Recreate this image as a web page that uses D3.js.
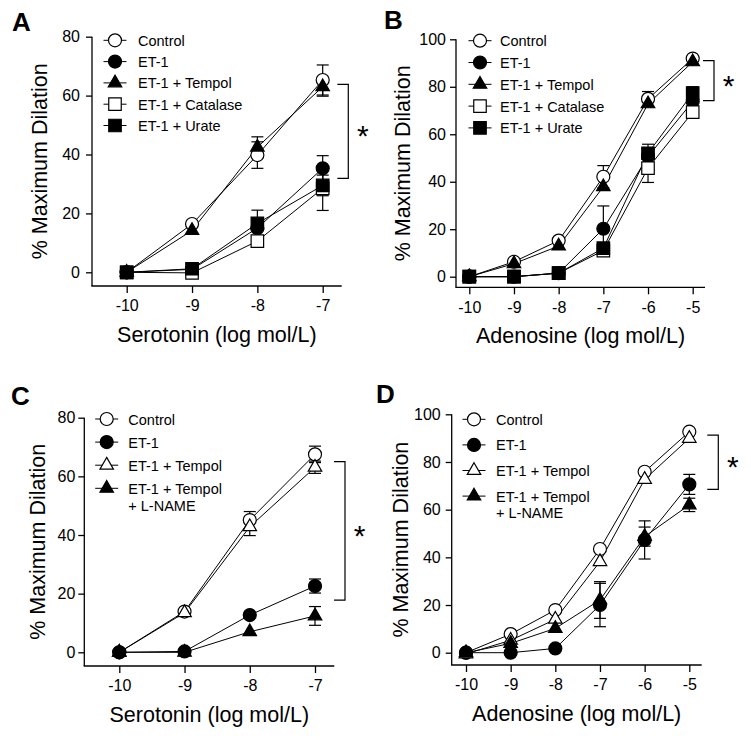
<!DOCTYPE html>
<html><head><meta charset="utf-8">
<script src="https://cdn.jsdelivr.net/npm/d3@7"></script>
<style>
body{margin:0;background:#fff}
svg{display:block}
text{font-family:"Liberation Sans",Arial,Helvetica,sans-serif;fill:#000}
</style>
</head><body>
<svg id="chart" width="751" height="740"></svg>
<script>
// ---------- DATA ----------
const serotoninDoses = [-10, -9, -8, -7];
const adenosineDoses = [-10, -9, -8, -7, -6, -5];
const yTicks80 = [0, 20, 40, 60, 80];
const yTicks100 = [0, 20, 40, 60, 80, 100];

const namesAB = ["Control", "ET-1", "ET-1 + Tempol", "ET-1 + Catalase", "ET-1 + Urate"];
const namesCD = ["Control", "ET-1", "ET-1 + Tempol", "ET-1 + Tempol|+ L-NAME"];

// Panel A (Serotonin)
const aControl  = [0, 16.4, 39.8, 65.3];  const aControlErr  = [0, 0, 4.5, 5.1];
const aET1      = [0, 1.0, 15.0, 35.3];   const aET1Err      = [0, 0, 0, 4.3];
const aTempol   = [0, 14.2, 42.5, 63.0];  const aTempolErr   = [0, 0, 3.5, 3.2];
const aCatalase = [0, -0.2, 10.6, 28.5];  const aCatalaseErr = [0, 0, 0, 7.5];
const aUrate    = [0, 1.2, 16.6, 29.5];   const aUrateErr    = [0, 0, 4.5, 3.5];

// Panel B (Adenosine)
const bControl  = [0, 6.3, 15.2, 42.1, 74.9, 91.9]; const bControlErr  = [0, 0, 0, 4.7, 3.1, 0];
const bET1      = [0, 0, 1.5, 20.2, 50.6, 73.8];    const bET1Err      = [0, 0, 0, 9.6, 5.2, 0];
const bTempol   = [0, 5.5, 12.9, 37.9, 72.8, 90.5]; const bTempolErr   = [0, 0, 0, 0, 0, 0];
const bCatalase = [0, 0, 1.5, 11.0, 45.7, 69.3];    const bCatalaseErr = [0, 0, 0, 0, 6.0, 0];
const bUrate    = [0, 0, 1.5, 12.0, 52.0, 77.3];    const bUrateErr    = [0, 0, 0, 0, 0, 2.7];

// Panel C (Serotonin)
const cControl = [0, 13.9, 45.1, 67.5]; const cControlErr = [0, 0, 2.9, 2.8];
const cET1     = [0, 0.3, 12.7, 22.6];  const cET1Err     = [0, 0, 0, 2.4];
const cTempol  = [0, 13.5, 42.8, 63.1]; const cTempolErr  = [0, 0, 3.0, 2.1];
const cLNAME   = [0, 0, 7.0, 12.4];     const cLNAMEErr   = [0, 0, 0, 3.2];

// Panel D (Adenosine)
const dControl = [0, 7.8, 17.9, 43.5, 75.9, 92.7];  const dControlErr = [0, 0, 0, 0, 0, 0];
const dET1     = [0, 0, 1.8, 20.0, 47.3, 70.6];     const dET1Err     = [0, 0, 0, 9.1, 8.0, 4.2];
const dTempol  = [-0.5, 5.2, 14.0, 38.2, 72.7, 89.9]; const dTempolErr = [0, 0, 0, 0, 0, 0];
const dLNAME   = [0, 3.9, 10.2, 22.1, 48.7, 62.0];  const dLNAMEErr   = [0, 0, 0, 7.7, 4.0, 2.8];

// significance brackets (data units: top, bottom)
const bracketA = [63.8, 31.9];
const bracketB = [91.0, 74.2];
const bracketC = [65.0, 17.8];
const bracketD = [91.3, 68.5];

const xTitleSerotonin = "Serotonin (log mol/L)";
const xTitleAdenosine = "Adenosine (log mol/L)";
const yTitle = "% Maximum Dilation";

// ---------- STYLE / LAYOUT ----------
const markersAB = ["circleOpen", "circleFilled", "triangleFilled", "squareOpen", "squareFilled"];
const markersCD = ["circleOpen", "circleFilled", "triangleOpen", "triangleFilled"];

const panels = [
  { label: "A", labelPos: [12, 31], doses: serotoninDoses, yTicks: yTicks80,
    xr: [126.7, 322.7], yr: [272.3, 36.7], yAxisX: 92, xAxisY: 286, xEnd: 341.7,
    yTitleX: 46.5, xTitle: xTitleSerotonin, tickPad: 6,
    series: [[aControl, aControlErr], [aET1, aET1Err], [aTempol, aTempolErr], [aCatalase, aCatalaseErr], [aUrate, aUrateErr]],
    names: namesAB, markers: markersAB,
    legend: { mx: 115, y0: 40.3, dy: 21.3, tx: 138 },
    bracket: bracketA, bracketDx: 25.6 },
  { label: "B", labelPos: [384, 29], doses: adenosineDoses, yTicks: yTicks100,
    xr: [469.3, 692.7], yr: [276.7, 39.3], yAxisX: 456, xAxisY: 287.3, xEnd: 705,
    yTitleX: 410, xTitle: xTitleAdenosine, tickPad: 4,
    series: [[bControl, bControlErr], [bET1, bET1Err], [bTempol, bTempolErr], [bCatalase, bCatalaseErr], [bUrate, bUrateErr]],
    names: namesAB, markers: markersAB,
    legend: { mx: 480, y0: 40.7, dy: 21.8, tx: 500 },
    bracket: bracketB, bracketDx: 21.3 },
  { label: "C", labelPos: [11, 405], doses: serotoninDoses, yTicks: yTicks80,
    xr: [119.3, 315], yr: [652.3, 417.7], yAxisX: 84.3, xAxisY: 666, xEnd: 334.3,
    yTitleX: 45, xTitle: xTitleSerotonin, tickPad: 3,
    series: [[cControl, cControlErr], [cET1, cET1Err], [cTempol, cTempolErr], [cLNAME, cLNAMEErr]],
    names: namesCD, markers: markersCD,
    legend: { mx: 106.7, y0: 419, dy: 23.1, tx: 128.3 },
    bracket: bracketC, bracketDx: 30 },
  { label: "D", labelPos: [376, 403], doses: adenosineDoses, yTicks: yTicks100,
    xr: [466, 689.3], yr: [652.7, 414.3], yAxisX: 451.7, xAxisY: 665, xEnd: 701.7,
    yTitleX: 408.3, xTitle: xTitleAdenosine, tickPad: 5,
    series: [[dControl, dControlErr], [dET1, dET1Err], [dTempol, dTempolErr], [dLNAME, dLNAMEErr]],
    names: namesCD, markers: markersCD,
    legend: { mx: 474, y0: 419.3, dy: 25.6, tx: 496 },
    bracket: bracketD, bracketDx: 29 }
];

const svg = d3.select("#chart");
svg.append("rect").attr("width", 751).attr("height", 740).attr("fill", "#fff");

const R = 6.5;
function markerPath(kind) {
  if (kind.startsWith("circle")) return d3.symbol(d3.symbolCircle, Math.PI * R * R)();
  if (kind.startsWith("square")) return d3.symbol(d3.symbolSquare, 12.5 * 12.5)();
  const s = 13.5; return d3.symbol(d3.symbolTriangle, Math.sqrt(3) / 4 * s * s)();
}
function drawMarker(g, kind, cx, cy) {
  g.append("path").attr("d", markerPath(kind))
    .attr("transform", `translate(${cx},${cy})`)
    .attr("fill", kind.endsWith("Open") ? "#fff" : "#000")
    .attr("stroke", "#000").attr("stroke-width", 1.2);
}

panels.forEach(p => {
  const g = svg.append("g");
  const x = d3.scaleLinear().domain([p.doses[0], p.doses[p.doses.length - 1]]).range(p.xr);
  const yMax = p.yTicks[p.yTicks.length - 1];
  const y = d3.scaleLinear().domain([0, yMax]).range(p.yr);

  // panel label
  g.append("text").attr("x", p.labelPos[0]).attr("y", p.labelPos[1])
    .attr("font-size", 26).attr("font-weight", "bold").text(p.label);

  // y axis
  const ya = g.append("g").attr("transform", `translate(${p.yAxisX},0)`)
    .call(d3.axisLeft(y).tickValues(p.yTicks).tickFormat(d => String(d)).tickSize(6).tickPadding(p.tickPad).tickSizeOuter(0));
  ya.select(".domain").remove();
  ya.selectAll(".tick line").attr("stroke", "#000").attr("stroke-width", 1.3);
  ya.selectAll(".tick text").attr("font-size", 16).attr("font-family", '"Liberation Sans",Arial,sans-serif').attr("fill", "#000");
  g.append("line").attr("x1", p.yAxisX).attr("x2", p.yAxisX).attr("y1", y(yMax)).attr("y2", p.xAxisY)
    .attr("stroke", "#000").attr("stroke-width", 1.3);

  // x axis
  const xa = g.append("g").attr("transform", `translate(0,${p.xAxisY})`)
    .call(d3.axisBottom(x).tickValues(p.doses).tickFormat(d => String(d)).tickSize(7).tickPadding(7).tickSizeOuter(0));
  xa.select(".domain").remove();
  xa.selectAll(".tick line").attr("stroke", "#000").attr("stroke-width", 1.3);
  xa.selectAll(".tick text").attr("font-size", 16).attr("font-family", '"Liberation Sans",Arial,sans-serif').attr("fill", "#000");
  g.append("line").attr("x1", p.yAxisX - 0.65).attr("x2", p.xEnd).attr("y1", p.xAxisY).attr("y2", p.xAxisY)
    .attr("stroke", "#000").attr("stroke-width", 1.3);

  // axis titles
  g.append("text").attr("x", (p.yAxisX + p.xEnd) / 2).attr("y", p.xAxisY + 56)
    .attr("text-anchor", "middle").attr("font-size", 21.5).text(p.xTitle);
  const yMid = (y(yMax) + p.xAxisY) / 2;
  g.append("text").attr("transform", `translate(${p.yTitleX},${yMid}) rotate(-90)`)
    .attr("text-anchor", "middle").attr("font-size", 21.5).text(yTitle);

  const line = d3.line().x((d, i) => x(p.doses[i])).y(d => y(d));
  // lines
  p.series.forEach(([vals]) => {
    g.append("path").attr("d", line(vals)).attr("fill", "none").attr("stroke", "#000").attr("stroke-width", 1);
  });
  // error bars
  p.series.forEach(([vals, errs]) => {
    vals.forEach((v, i) => {
      const e = errs[i]; if (!e) return;
      const cx = x(p.doses[i]);
      g.append("line").attr("x1", cx).attr("x2", cx).attr("y1", y(v - e)).attr("y2", y(v + e))
        .attr("stroke", "#000").attr("stroke-width", 1.2);
      [v - e, v + e].forEach(t => g.append("line").attr("x1", cx - 6).attr("x2", cx + 6)
        .attr("y1", y(t)).attr("y2", y(t)).attr("stroke", "#000").attr("stroke-width", 1.2));
    });
  });
  // markers
  p.series.forEach(([vals], si) => {
    vals.forEach((v, i) => drawMarker(g, p.markers[si], x(p.doses[i]), y(v)));
  });

  // legend
  p.names.forEach((name, i) => {
    const ly = p.legend.y0 + i * p.legend.dy;
    g.append("line").attr("x1", p.legend.mx - 11.5).attr("x2", p.legend.mx + 11.5).attr("y1", ly).attr("y2", ly)
      .attr("stroke", "#000").attr("stroke-width", 1);
    drawMarker(g, p.markers[i], p.legend.mx, ly);
    const parts = name.split("|");
    parts.forEach((t, k) => g.append("text").attr("x", p.legend.tx).attr("y", ly + 5.5 + k * 16.7)
      .attr("font-size", 14.5).text(t));
  });

  // bracket
  const bx = x(p.doses[p.doses.length - 1]) + p.bracketDx;
  const by1 = y(p.bracket[0]), by2 = y(p.bracket[1]);
  g.append("path").attr("d", `M${bx - 11},${by1}H${bx}V${by2}H${bx - 11}`)
    .attr("fill", "none").attr("stroke", "#000").attr("stroke-width", 1.2);
  g.append("text").attr("x", bx + 14.5).attr("y", (by1 + by2) / 2 + 15)
    .attr("text-anchor", "middle").attr("font-size", 30).text("*");
});
</script>
</body></html>
